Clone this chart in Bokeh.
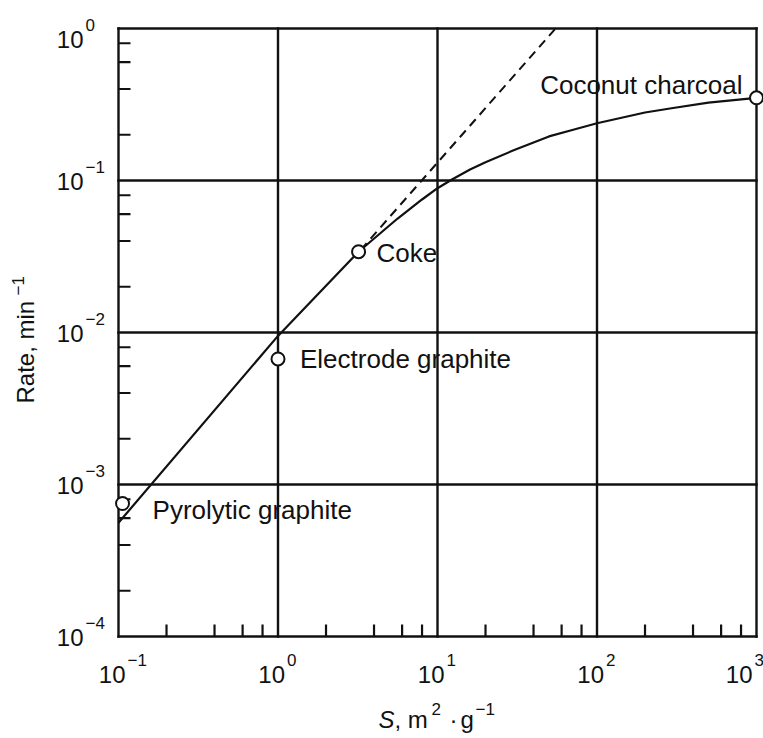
from bokeh.plotting import figure
from bokeh.models import Range1d, Label
from bokeh.embed import file_html
from bokeh.resources import INLINE

# ---- axis decades and their exponent labels ----
x_decades = [0.1, 1, 10, 100, 1000]
x_exponents = ["\u22121", "0", "1", "2", "3"]
y_decades = [1e-4, 1e-3, 1e-2, 1e-1, 1.0]
y_exponents = ["\u22124", "\u22123", "\u22122", "\u22121", "0"]
minor_multipliers = [2, 4, 6, 8]

# ---- gasification rate vs specific surface area (solid curve) ----
curve_s = [0.1, 1.0, 3.2, 5.6, 8, 10, 12.4, 16, 20, 30, 50, 70, 100, 200, 300, 500, 1000]
curve_rate = [5.6e-4, 9.5e-3, 0.034, 0.056, 0.075, 0.089, 0.102, 0.118, 0.132,
              0.158, 0.195, 0.215, 0.238, 0.28, 0.30, 0.325, 0.35]

# ---- straight-line extrapolation (dashed) ----
dash_s = [3.3, 55]
dash_rate = [0.035, 1.0]

# ---- individual carbons ----
samples = ["Pyrolytic graphite", "Electrode graphite", "Coke", "Coconut charcoal"]
sample_s = [0.106, 1.0, 3.2, 1000]
sample_rate = [7.5e-4, 6.7e-3, 0.034, 0.35]

FONT = "Liberation Sans"
INK = "#111111"
MAIN = 24      # tick / title font size, px
SUP = 17       # superscript font size, px
NOTE = 26      # sample-name font size, px
DROP = 0.36    # renderer places alphabetic baseline this many em too low

# canvas geometry: the whole page is the drawing area; the log box sits inside it
W, H = 763, 738
BOX_LEFT, BOX_TOP = 118, 28
PX_PER_DEC_X, PX_PER_DEC_Y = 159.5, 152.0
x0, x1 = x_decades[0], x_decades[-1]
y0, y1 = y_decades[0], y_decades[-1]
box_w = PX_PER_DEC_X * (len(x_decades) - 1)
box_h = PX_PER_DEC_Y * (len(y_decades) - 1)
x_start = x0 * 10 ** (-BOX_LEFT / PX_PER_DEC_X)
x_end = x1 * 10 ** ((W - BOX_LEFT - box_w) / PX_PER_DEC_X)
y_end = y1 * 10 ** (BOX_TOP / PX_PER_DEC_Y)
y_start = y0 * 10 ** (-(H - BOX_TOP - box_h) / PX_PER_DEC_Y)

p = figure(width=W, height=H, x_axis_type="log", y_axis_type="log",
           x_range=Range1d(x_start, x_end), y_range=Range1d(y_start, y_end),
           x_axis_location=None, y_axis_location=None,
           output_backend="svg", toolbar_location=None,
           min_border=0)
p.background_fill_color = "white"
p.border_fill_color = "white"
p.outline_line_color = None
p.grid.visible = False


def text(x, y, s, size, dx, dy, align="left", style="normal", rotated=False):
    """Place a text with its baseline start (or end) dx, dy px from a data point."""
    drop = DROP * size
    if rotated:
        dx -= drop
    else:
        dy += drop
    p.add_layout(Label(x=x, y=y, text=s, text_font=FONT, text_font_size=f"{size}px",
                       text_font_style=style, text_color=INK, text_align=align,
                       text_baseline="alphabetic", x_offset=dx, y_offset=dy,
                       angle=1.5707963 if rotated else 0))


# decade grid, including the box edges
p.segment(x0=x_decades, x1=x_decades, y0=[y0] * len(x_decades), y1=[y1] * len(x_decades),
          line_color=INK, line_width=2.4, line_cap="square")
p.segment(x0=[x0] * len(y_decades), x1=[x1] * len(y_decades), y0=y_decades, y1=y_decades,
          line_color=INK, line_width=2.4, line_cap="square")

# inward minor ticks on bottom and left edges
x_minor = [m * d for d in x_decades[:-1] for m in minor_multipliers]
y_minor = [m * d for d in y_decades[:-1] for m in minor_multipliers]
p.ray(x=x_minor, y=[y0] * len(x_minor), length=12, length_units="screen",
      angle=1.5707963, line_color=INK, line_width=2.2)
p.ray(x=[x0] * len(y_minor), y=y_minor, length=12, length_units="screen",
      angle=0, line_color=INK, line_width=2.2)

# curves
p.line(curve_s, curve_rate, line_color=INK, line_width=2.2)
p.line(dash_s, dash_rate, line_color=INK, line_width=2, line_dash="9 6")
p.scatter(sample_s, sample_rate, size=13, marker="circle",
          fill_color="white", line_color=INK, line_width=2)

# sample names beside their points
label_style = {
    "Pyrolytic graphite": (30, -16, "left"),
    "Electrode graphite": (22, -9, "left"),
    "Coke": (18, -11, "left"),
    "Coconut charcoal": (-14, 3, "right"),
}
for name, s, r in zip(samples, sample_s, sample_rate):
    dx, dy, align = label_style[name]
    text(s, r, name, NOTE, dx, dy, align)

# x tick labels: 10 with exponent (the last one kept inside the page)
for d, e in zip(x_decades, x_exponents):
    shift = -11 if d == x1 else 0
    text(d, y0, "10", MAIN, 7 + shift, -47, "right")
    text(d, y0, e, SUP, 9 + shift, -30)

# y tick labels
for d, e in zip(y_decades, y_exponents):
    base = -20 if d == y1 else -10
    text(x0, d, "10", MAIN, -35, base, "right")
    text(x0, d, e, SUP, -33, base + 17)

# x axis title: S, m^2 . g^-1
x_title = [("S", "italic", MAIN, -59, -92),
           (", m", "normal", MAIN, -43, -92),
           ("2", "normal", SUP, -6, -79),
           ("\u00b7", "normal", MAIN, 12, -92),
           ("g", "normal", MAIN, 23, -92),
           ("\u22121", "normal", SUP, 38, -79)]
for s, style, size, dx, dy in x_title:
    text(10, y0, s, size, dx, dy, style=style)

# y axis title: Rate, min^-1 (rotated)
text(x0, 1e-2, "Rate, min", MAIN, -84, -71, rotated=True)
text(x0, 1e-2, "\u22121", SUP, -94, 37, rotated=True)

open("out.html", "w").write(file_html(p, INLINE))
